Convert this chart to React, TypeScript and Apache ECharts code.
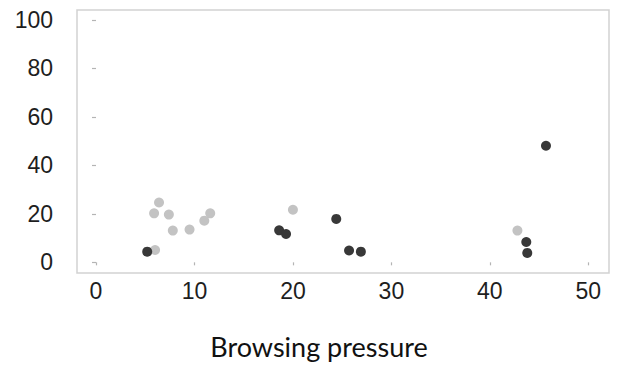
import React, { useEffect, useRef } from "react";
import * as echarts from "echarts";

const xTicks = [0, 10, 20, 30, 40, 50];
const yTicks = [0, 20, 40, 60, 80, 100];

// light grey group: [browsing pressure, value]
const lightX = [6.4, 5.9, 7.4, 7.8, 9.5, 11.0, 11.6, 6.0, 20.0, 42.8];
const lightY = [24.7, 20.2, 19.7, 13.1, 13.5, 17.2, 20.2, 5.1, 21.7, 13.1];

// dark group
const darkX = [5.2, 18.6, 19.3, 24.4, 25.7, 26.9, 45.7, 43.7, 43.8];
const darkY = [4.4, 13.2, 11.7, 17.9, 4.9, 4.4, 48.1, 8.4, 3.9];

const xTitle = "Browsing pressure";

export default function App() {
  const ref = useRef<HTMLDivElement>(null);
  useEffect(() => {
    if (!ref.current) return;
    const chart = echarts.init(ref.current, null, { renderer: "svg" });
    const labelFont = {
      fontFamily: "'Liberation Sans', Arial, sans-serif",
      fontSize: 23,
      color: "#1e1e1e",
    };
    chart.setOption({
      animation: false,
      backgroundColor: "#ffffff",
      grid: {
        show: true,
        left: 77,
        top: 10,
        right: 11,
        bottom: 94,
        borderColor: "#d2d2d2",
        borderWidth: 1.5,
        backgroundColor: "transparent",
      },
      xAxis: {
        type: "value",
        min: -1.93,
        max: 52.1,
        axisLine: { show: false },
        splitLine: { show: false },
        axisTick: {
          show: true,
          length: 3,
          customValues: xTicks,
          lineStyle: { color: "#b4b4b4", width: 1.2 },
        },
        axisLabel: { ...labelFont, margin: 6, customValues: xTicks },
      },
      yAxis: {
        type: "value",
        min: -4.4,
        max: 104.1,
        axisLine: { show: false },
        splitLine: { show: false },
        axisTick: {
          show: true,
          length: 4,
          customValues: yTicks,
          lineStyle: { color: "#b4b4b4", width: 1.2 },
        },
        axisLabel: { ...labelFont, margin: 24, customValues: yTicks },
      },
      series: [
        {
          type: "scatter",
          symbolSize: 10,
          itemStyle: { color: "#c3c3c3", opacity: 1 },
          data: lightX.map((x, i) => [x, lightY[i]]),
          z: 2,
        },
        {
          type: "scatter",
          symbolSize: 10,
          itemStyle: { color: "#383838", opacity: 1 },
          data: darkX.map((x, i) => [x, darkY[i]]),
          z: 3,
        },
      ],
      graphic: [
        {
          type: "text",
          x: 319,
          y: 346,
          style: {
            text: xTitle,
            fontFamily: "Lato, 'Open Sans', sans-serif",
            fontSize: 27,
            fill: "#111111",
            align: "center",
            verticalAlign: "middle",
          },
        },
      ],
    });
    return () => chart.dispose();
  }, []);
  return <div ref={ref} style={{ width: 620, height: 367, position: "absolute", left: 0, top: 0 }} />;
}
